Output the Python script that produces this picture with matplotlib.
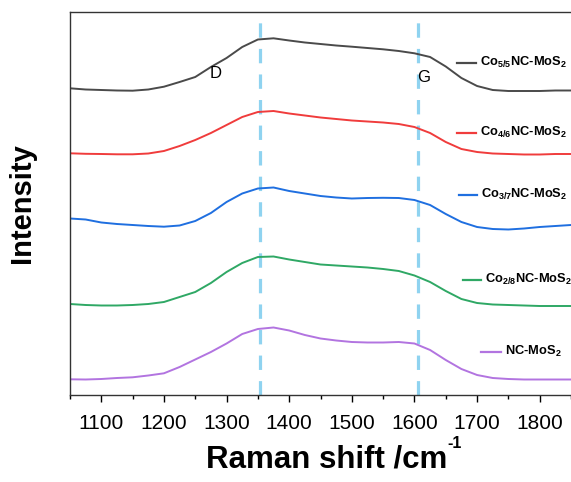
"""Raman spectra of Co/NC-MoS2 samples with D and G band markers."""
import matplotlib
matplotlib.use("Agg")
import matplotlib.pyplot as plt
from matplotlib.ticker import MultipleLocator

plt.rcParams["font.family"] = ["Liberation Sans", "DejaVu Sans"]
plt.rcParams["mathtext.fontset"] = "custom"
plt.rcParams["mathtext.rm"] = "Liberation Sans"
plt.rcParams["mathtext.bf"] = "Liberation Sans:bold"

# Raman shift (cm-1)
shift = [1050, 1075, 1100, 1125, 1150, 1175, 1200, 1225, 1250, 1275, 1300,
         1325, 1350, 1375, 1400, 1425, 1450, 1475, 1500, 1525, 1550, 1575,
         1600, 1625, 1650, 1675, 1700, 1725, 1750, 1775, 1800, 1825, 1850]

# intensities (a.u., stacked)
co55 = [306.7, 305.5, 305.0, 304.5, 304.3, 305.5, 308.3, 313.0, 318.0, 328.0,
        337.0, 348.0, 355.5, 356.7, 354.5, 352.5, 351.0, 349.5, 348.3, 347.0,
        345.7, 344.0, 341.7, 338.0, 328.5, 317.0, 309.0, 305.0, 304.0, 304.0,
        304.0, 304.5, 304.5]
co46 = [241.7, 241.2, 241.0, 240.7, 240.7, 241.5, 244.0, 249.0, 255.0, 262.0,
        270.0, 278.0, 283.0, 284.0, 281.5, 279.5, 277.5, 276.0, 274.5, 273.5,
        272.5, 271.0, 268.0, 262.0, 253.0, 246.0, 243.0, 241.5, 241.0, 240.5,
        240.5, 241.0, 241.0]
co37 = [176.5, 175.5, 172.5, 171.0, 170.0, 169.0, 168.3, 169.5, 174.0, 182.0,
        193.0, 201.5, 206.5, 207.5, 204.0, 201.5, 199.0, 197.5, 196.5, 197.0,
        197.2, 197.0, 195.0, 190.0, 181.0, 173.0, 168.0, 166.0, 165.5, 166.5,
        168.0, 169.0, 170.0]
co28 = [91.0, 90.0, 89.5, 89.5, 90.0, 91.0, 93.0, 98.0, 103.0, 112.0,
        123.0, 132.0, 138.0, 138.5, 135.5, 133.0, 130.5, 129.5, 128.5, 127.5,
        126.0, 124.0, 119.5, 113.0, 104.0, 96.0, 92.0, 90.5, 90.0, 89.5,
        89.0, 89.0, 89.0]
nc = [15.7, 15.5, 16.0, 17.0, 17.7, 19.5, 21.7, 28.0, 35.5, 43.0,
      51.5, 61.0, 66.0, 67.5, 64.5, 60.0, 56.5, 54.5, 53.0, 52.5,
      52.5, 53.0, 51.5, 45.0, 35.0, 26.0, 20.0, 17.0, 16.0, 15.5,
      15.5, 15.5, 15.5]

series = [co55, co46, co37, co28, nc]
labels = [r"Co$_\mathbf{5/5}$NC-MoS$_\mathbf{2}$",
          r"Co$_\mathbf{4/6}$NC-MoS$_\mathbf{2}$",
          r"Co$_\mathbf{3/7}$NC-MoS$_\mathbf{2}$",
          r"Co$_\mathbf{2/8}$NC-MoS$_\mathbf{2}$",
          r"NC-MoS$_\mathbf{2}$"]
colors = ["#4a4a4a", "#f03c3c", "#1f6fe0", "#2fa865", "#b274e0"]
band_pos = [1353, 1605]

# hand placed legend entries: (line x0, line x1, y)
legend_pos = [(1668, 1699, 332), (1668, 1699, 262), (1671, 1700, 200),
              (1678, 1707, 115), (1706, 1738, 43)]

fig = plt.figure(figsize=(5.71, 4.82), dpi=100)
ax = fig.add_axes([70 / 571, 87 / 482, 501 / 571, 383 / 482])

for xb in band_pos:
    ax.axvline(xb, color="#8fd3f0", lw=2.3, dashes=(4.5, 3.5), zorder=1)

for vals, col in zip(series, colors):
    ax.plot(shift, vals, color=col, lw=1.4, zorder=2)

for (x0, x1, y), lab, col in zip(legend_pos, labels, colors):
    ax.plot([x0, x1], [y, y], color=col, lw=1.6, clip_on=False)
    ax.text(x1 + 6, y + 1, lab, fontsize=9.3, fontweight="bold",
            va="center", ha="left", clip_on=False)

ax.text(1282, 322, "D", fontsize=12, ha="center", va="center")
ax.text(1614, 317, "G", fontsize=12, ha="center", va="center")

ax.set_xlim(1050, 1850)
ax.set_ylim(0, 383)
ax.set_yticks([])
ax.xaxis.set_major_locator(MultipleLocator(100))
ax.xaxis.set_minor_locator(MultipleLocator(50))
ax.tick_params(axis="x", which="major", direction="out", length=5,
               width=1, labelsize=15, pad=9)
ax.tick_params(axis="x", which="minor", direction="out", length=3, width=1)
ax.spines["right"].set_visible(False)
for s in ("left", "top", "bottom"):
    ax.spines[s].set_linewidth(1.0)
    ax.spines[s].set_color("#333333")

ax.set_xlabel("Raman shift /cm", fontsize=22.5, fontweight="bold")
ax.xaxis.set_label_coords((327 - 70) / 501, -0.13)
# superscript with a plain hyphen, as in the original
fig.text(447 / 571, 1 - 436 / 482, "-1", fontsize=11.5, fontweight="bold",
         ha="left", va="top")
ax.set_ylabel("Intensity", fontsize=21, fontweight="bold")
ax.yaxis.set_label_coords(-34 / 501, (395 - 203) / 383)

fig.savefig("out.png", dpi=100, facecolor="white")
